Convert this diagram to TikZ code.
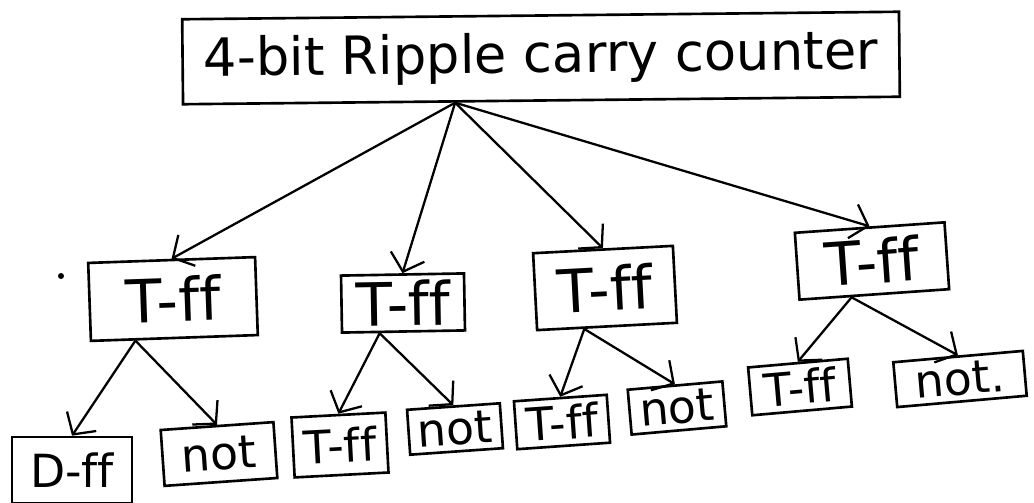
\documentclass[tikz,border=0pt]{standalone}
\usepackage{fontspec}
\setmainfont[Ligatures={NoCommon}]{DejaVu Sans}
\usetikzlibrary{arrows.meta,calc}
\begin{document}
\begin{tikzpicture}[x=0.02cm,y=-0.02cm,
  box/.style={draw,line width=1.5pt,inner sep=0pt},
  rootbox/.style={box,font=\fontsize{30}{32}\selectfont},
  midbox/.style={box,font=\fontsize{34}{36}\selectfont},
  leafbox/.style={box,font=\fontsize{26}{28}\selectfont},
  link/.style={line width=1.3pt,-{Straight Barb[length=9pt,width=20pt,line width=1.3pt]}}]
\useasboundingbox (0,0) rectangle (1034,503);

% root
\node[rootbox,minimum width=14.34cm,minimum height=1.7cm,rotate=0.6] (top) at (541,58) {4-bit Ripple carry counter};

% first level
\node[midbox,minimum width=3.34cm,minimum height=1.56cm,rotate=2] (t1) at (173,299) {T-ff};
\node[midbox,minimum width=2.46cm,minimum height=1.14cm,rotate=1] (t2) at (403,303) {T-ff};
\node[midbox,minimum width=2.8cm,minimum height=1.54cm,rotate=3] (t3) at (605,288) {T-ff};
\node[midbox,minimum width=3.0cm,minimum height=1.34cm,rotate=4] (t4) at (872,261) {T-ff};

% second level
\node[leafbox,minimum width=2.4cm,minimum height=1.32cm] (d1) at (72,470) {D-ff};
\node[leafbox,minimum width=2.26cm,minimum height=1.12cm,rotate=4] (n1) at (219,454) {not};
\node[leafbox,minimum width=1.88cm,minimum height=1.2cm,rotate=3] (f2) at (340,445) {T-ff};
\node[leafbox,minimum width=1.86cm,minimum height=0.9cm,rotate=4] (n2) at (455,429) {not};
\node[leafbox,minimum width=1.86cm,minimum height=0.96cm,rotate=4] (f3) at (562,422) {T-ff};
\node[leafbox,minimum width=1.9cm,minimum height=0.9cm,rotate=5] (n3) at (677,408) {not};
\node[leafbox,minimum width=2.0cm,minimum height=0.96cm,rotate=5] (f4) at (800,387) {T-ff};
\node[leafbox,minimum width=2.6cm,minimum height=0.9cm,rotate=5] (n4) at (960,379) {not.};

% stray dot
\fill (61,276) circle (3);

% branch points
\coordinate (o) at ($(top.south west)!0.38!(top.south east)$);
\coordinate (o1) at ($(t1.south west)!0.27!(t1.south east)$);
\coordinate (o2) at ($(t2.south west)!0.31!(t2.south east)$);
\coordinate (o3) at ($(t3.south west)!0.34!(t3.south east)$);
\coordinate (o4) at ($(t4.south west)!0.35!(t4.south east)$);

\draw[link] (o) -- (t1.north);
\draw[link] (o) -- (t2.north);
\draw[link] (o) -- (t3.north);
\draw[link] (o) -- (t4.north);

\draw[link] (o1) -- (d1.north);
\draw[link] (o1) -- (n1.north);
\draw[link] (o2) -- (f2.north);
\draw[link] (o2) -- (n2.north);
\draw[link] (o3) -- (f3.north);
\draw[link] (o3) -- (n3.north);
\draw[link] (o4) -- (f4.north);
\draw[link] (o4) -- (n4.north);
\end{tikzpicture}
\end{document}
